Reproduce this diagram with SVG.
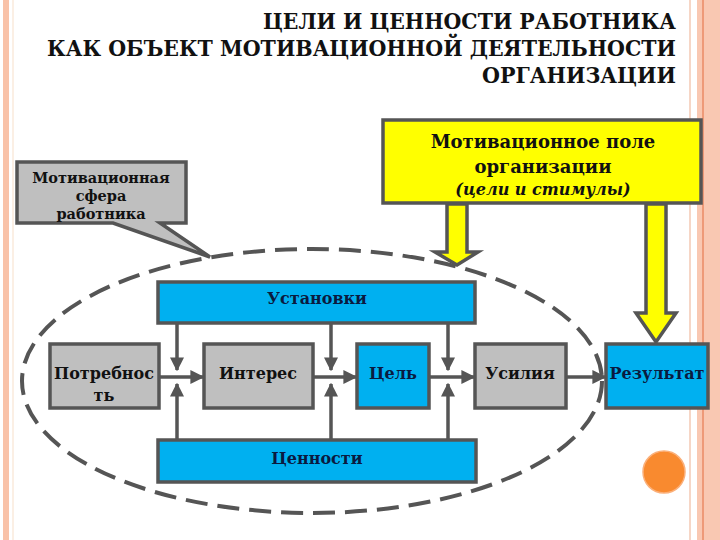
<svg xmlns="http://www.w3.org/2000/svg" width="720" height="540" viewBox="0 0 720 540">
<defs>
<style>
.box{stroke:#555;stroke-width:3.5}
.grey{fill:#bfbfbf}
.blue{fill:#00b0f0}
.yel{fill:#ffff00}
.t{font-family:'DejaVu Serif',serif;font-weight:bold;fill:#111;text-anchor:middle}
.tb{fill:#0a1a40}
.ln{stroke:#555;stroke-width:3.5;fill:none}
.title{font-family:'DejaVu Serif Condensed','DejaVu Serif',serif;font-stretch:condensed;font-weight:bold;font-size:23px;fill:#111;text-anchor:end}
</style>
<marker id="ah" viewBox="0 0 10 10" refX="9" refY="5" markerWidth="4" markerHeight="4" orient="auto" markerUnits="strokeWidth">
<path d="M0,0 L10,5 L0,10 z" fill="#555"/>
</marker>
</defs>
<rect width="720" height="540" fill="#fff"/>
<!-- page decoration -->
<rect x="3" y="0" width="6" height="540" fill="#f9c2a8"/>
<rect x="12" y="0" width="2" height="540" fill="#fbefe4"/>
<rect x="689" y="0" width="2" height="540" fill="#f6d6c6"/>
<rect x="697" y="0" width="23" height="540" fill="#f9c8b2"/>
<rect x="702" y="0" width="2" height="540" fill="#ee9a78"/>
<!-- title -->
<g id="title">
<text class="title" x="676" y="29" textLength="413" lengthAdjust="spacingAndGlyphs">ЦЕЛИ И ЦЕННОСТИ РАБОТНИКА</text>
<text class="title" x="676" y="56" textLength="629" lengthAdjust="spacingAndGlyphs">КАК ОБЪЕКТ МОТИВАЦИОННОЙ ДЕЯТЕЛЬНОСТИ</text>
<text class="title" x="676" y="83" textLength="194" lengthAdjust="spacingAndGlyphs">ОРГАНИЗАЦИИ</text>
</g>
<!-- dashed ellipse -->
<ellipse cx="312" cy="381" rx="290" ry="132" fill="none" stroke="#555" stroke-width="4" stroke-dasharray="22 10"/>
<!-- callout -->
<g id="callout">
<path d="M17,162 H186 V223 H160 L210,257 L113,223 H17 Z" class="box grey"/>
<text class="t" x="101" y="183" font-size="14.5">Мотивационная</text>
<text class="t" x="101" y="201" font-size="14.5">сфера</text>
<text class="t" x="101" y="219" font-size="14.5">работника</text>
</g>
<!-- yellow field -->
<g id="field">
<rect x="383" y="120" width="318" height="83" class="box yel"/>
<text class="t" x="543" y="148" font-size="18">Мотивационное поле</text>
<text class="t" x="543" y="173" font-size="18">организации</text>
<text class="t" x="543" y="195" font-size="16" font-style="italic">(цели и стимулы)</text>
</g>
<!-- yellow arrows -->
<g id="arrows">
<path d="M447,204 H467 V252 H478 L457,265 L435,252 H447 Z" class="box yel" stroke-width="3"/>
<path d="M646,204 H666 V313 H676 L656,342 L636,313 H646 Z" class="box yel" stroke-width="3"/>
</g>
<!-- connectors -->
<g id="connectors">
<line class="ln" x1="177" y1="323" x2="177" y2="370" marker-end="url(#ah)"/>
<line class="ln" x1="177" y1="440" x2="177" y2="384" marker-end="url(#ah)"/>
<line class="ln" x1="331" y1="323" x2="331" y2="370" marker-end="url(#ah)"/>
<line class="ln" x1="331" y1="440" x2="331" y2="384" marker-end="url(#ah)"/>
<line class="ln" x1="448" y1="323" x2="448" y2="370" marker-end="url(#ah)"/>
<line class="ln" x1="448" y1="440" x2="448" y2="384" marker-end="url(#ah)"/>
<line class="ln" x1="159" y1="377" x2="203" y2="377" marker-end="url(#ah)"/>
<line class="ln" x1="313" y1="377" x2="356" y2="377" marker-end="url(#ah)"/>
<line class="ln" x1="429" y1="377" x2="474" y2="377" marker-end="url(#ah)"/>
<line class="ln" x1="566" y1="377" x2="605" y2="377" marker-end="url(#ah)"/>
</g>
<!-- nodes -->
<g id="ustanovki">
<rect x="158" y="282" width="317" height="41" class="box blue"/>
<text class="t tb" x="317" y="304" font-size="16">Установки</text>
</g>
<g id="cennosti">
<rect x="158" y="440" width="318" height="42" class="box blue"/>
<text class="t tb" x="317" y="464" font-size="16">Ценности</text>
</g>
<g id="potrebnost">
<rect x="50" y="344" width="109" height="64" class="box grey"/>
<text class="t" x="104" y="379" font-size="16">Потребнос</text>
<text class="t" x="104" y="401" font-size="16">ть</text>
</g>
<g id="interes">
<rect x="204" y="344" width="109" height="64" class="box grey"/>
<text class="t" x="258" y="379" font-size="16">Интерес</text>
</g>
<g id="cel">
<rect x="357" y="344" width="72" height="64" class="box blue"/>
<text class="t tb" x="393" y="379" font-size="16">Цель</text>
</g>
<g id="usiliya">
<rect x="475" y="344" width="91" height="64" class="box grey"/>
<text class="t" x="520" y="379" font-size="16">Усилия</text>
</g>
<g id="rezultat">
<rect x="606" y="344" width="102" height="64" class="box blue"/>
<text class="t tb" x="657" y="379" font-size="16">Результат</text>
</g>
<circle cx="664" cy="472" r="21" fill="#f98a2f" stroke="#fbb07a" stroke-width="1.5"/>
</svg>
